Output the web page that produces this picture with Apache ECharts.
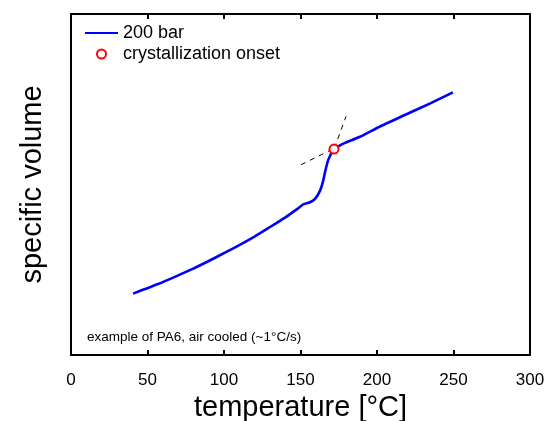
<!DOCTYPE html>
<html>
<head>
<meta charset="utf-8">
<script src="https://cdn.jsdelivr.net/npm/echarts@6/dist/echarts.min.js"></script>
<style>
html,body{margin:0;padding:0;background:#fff;}
#c{width:544px;height:421px;}
</style>
</head>
<body>
<div id="c"></div>
<script>
// Data (temperature in °C, specific volume in arbitrary units)
const temperature = [40.6, 56.9, 67.9, 78.8, 89.7, 100.6, 111.5, 120.2, 128.9, 139.9, 147.5, 151.8, 156.2, 159.5, 162.8, 164.9, 166.0, 168.2, 171.9, 175.5, 179.1, 188.9, 202, 221.7, 234.8, 249.6];
const specificVolume = [18.0, 20.8, 22.9, 25.1, 27.5, 30.0, 32.6, 34.8, 37.2, 40.3, 42.7, 44.2, 44.8, 45.8, 48.2, 51.2, 53.6, 57.3, 60.4, 61.4, 62.2, 64.0, 67.0, 71.1, 73.8, 77.0];
const onsetT = [171.9];
const onsetV = [60.4];
const tangentMeltT = [150.3, 172.1];
const tangentMeltV = [55.8, 60.6];
const tangentCrystT = [172.1, 179.8];
const tangentCrystV = [60.6, 70.0];
const xTicks = [0, 50, 100, 150, 200, 250, 300];
const seriesNames = ['200 bar', 'crystallization onset'];
const note = 'example of PA6, air cooled (~1°C/s)';

const zip = (a, b) => a.map((v, i) => [v, b[i]]);
const font = 'Liberation Sans, Arial, sans-serif';

const chart = echarts.init(document.getElementById('c'), null, {renderer: 'canvas'});
const frame = {show: true, onZero: false, lineStyle: {color: '#000', width: 2}};
chart.setOption({
  animation: false,
  backgroundColor: '#fff',
  textStyle: {fontFamily: font},
  grid: {left: 71, right: 14, top: 14, bottom: 66, containLabel: false, outerBoundsMode: 'none'},
  legend: {
    orient: 'vertical', left: 84, top: 24, itemWidth: 33, itemHeight: 9, itemGap: 3, padding: 0,
    data: [{name: seriesNames[0], itemStyle: {opacity: 0}}, {name: seriesNames[1]}],
    textStyle: {fontSize: 18, color: '#000', fontFamily: font}
  },
  xAxis: [{
    type: 'value', min: xTicks[0], max: xTicks[xTicks.length - 1], interval: 50,
    axisLine: frame,
    axisTick: {show: true, inside: true, length: 5, lineStyle: {color: '#000', width: 2}},
    axisLabel: {fontSize: 17, color: '#000', margin: 17, fontFamily: font},
    splitLine: {show: false},
    name: 'temperature [°C]', nameLocation: 'middle', nameGap: 35,
    nameTextStyle: {fontSize: 29, color: '#000', fontFamily: font}
  }, {
    type: 'value', position: 'top', min: xTicks[0], max: xTicks[xTicks.length - 1], interval: 50,
    axisLine: frame,
    axisTick: {show: true, inside: true, length: 5, lineStyle: {color: '#000', width: 2}},
    axisLabel: {show: false}, splitLine: {show: false}
  }],
  yAxis: [{
    type: 'value', min: 0, max: 100,
    axisLine: frame, axisTick: {show: false}, axisLabel: {show: false}, splitLine: {show: false},
    name: 'specific volume', nameLocation: 'middle', nameGap: 24, nameRotate: 90,
    nameTextStyle: {fontSize: 29, color: '#000', fontFamily: font}
  }, {
    type: 'value', position: 'right', min: 0, max: 100,
    axisLine: frame, axisTick: {show: false}, axisLabel: {show: false}, splitLine: {show: false}
  }],
  graphic: [{
    type: 'text', left: 87, top: 330,
    style: {text: note, fontSize: 13.5, fill: '#000', fontFamily: font}
  }],
  series: [{
    name: seriesNames[0], type: 'line', symbol: 'none', smooth: 0.2,
    data: zip(temperature, specificVolume),
    lineStyle: {color: '#0000ff', width: 2.6}, itemStyle: {color: '#0000ff'}, z: 3
  }, {
    type: 'line', symbol: 'none', data: zip(tangentMeltT, tangentMeltV),
    lineStyle: {color: '#000', width: 1, type: [5, 5]}, silent: true, z: 2
  }, {
    type: 'line', symbol: 'none', data: zip(tangentCrystT, tangentCrystV),
    lineStyle: {color: '#000', width: 1, type: [5, 5]}, silent: true, z: 2
  }, {
    name: seriesNames[1], type: 'scatter', symbol: 'emptyCircle', symbolSize: 9,
    data: zip(onsetT, onsetV),
    itemStyle: {color: '#ff0000', borderColor: '#ff0000', borderWidth: 2, opacity: 1}, z: 4
  }]
});
</script>
</body>
</html>
